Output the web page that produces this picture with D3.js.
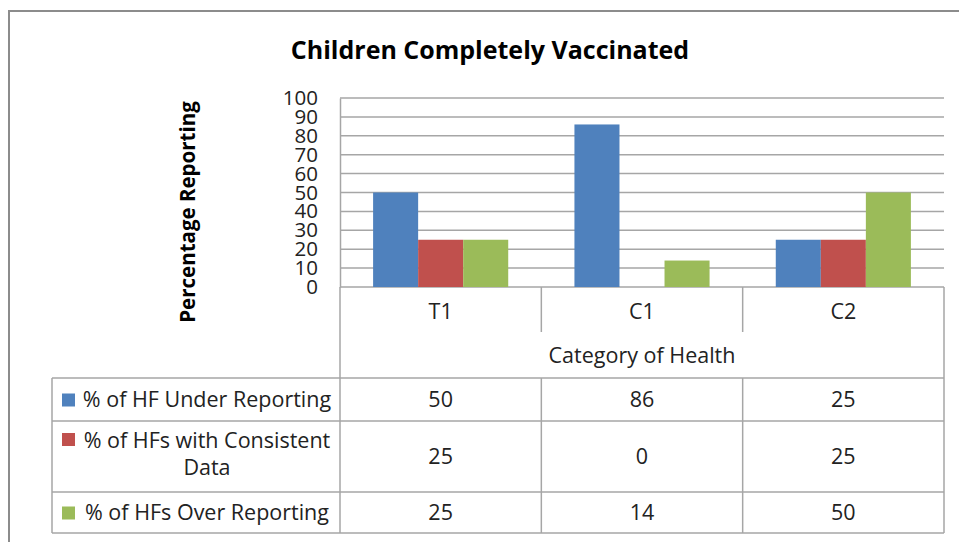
<!DOCTYPE html>
<html>
<head>
<meta charset="utf-8">
<script src="https://cdnjs.cloudflare.com/ajax/libs/d3/7.8.5/d3.min.js"></script>
<style>
  body { margin: 0; background: #fff; }
  svg { display: block; }
  text { font-family: "Open Sans", sans-serif; fill: #222; }
</style>
</head>
<body>
<script>
// Chart data
const categories = ['T1', 'C1', 'C2'];
const seriesNames = ['% of HF Under Reporting', '% of HFs with Consistent Data', '% of HFs Over Reporting'];
const legendLines = [['% of HF Under Reporting'], ['% of HFs with Consistent', 'Data'], ['% of HFs Over Reporting']];
const underReporting = [50, 86, 25];
const consistentData = [25, 0, 25];
const overReporting = [25, 14, 50];
const yTicks = [0, 10, 20, 30, 40, 50, 60, 70, 80, 90, 100];
const colors = ['#4F81BD', '#C0504D', '#9BBB59'];

const seriesValues = [underReporting, consistentData, overReporting];

const width = 959, height = 542;
const plot = { left: 340, right: 944, top: 98, bottom: 287 };
const table = { left: 52, catBottom: 332, rows: [378, 421, 492, 533] };
const gridColor = '#a6a6a6';
const bodySize = '21.5px';

const svg = d3.select('body').append('svg')
  .attr('width', width)
  .attr('height', height);

// outer chart border
svg.append('rect')
  .attr('x', 9).attr('y', 11)
  .attr('width', 980).attr('height', 560)
  .attr('fill', 'none')
  .attr('stroke', '#8c8c8c')
  .attr('stroke-width', 2);

// title
svg.append('text')
  .attr('x', 490).attr('y', 59)
  .attr('text-anchor', 'middle')
  .style('font-size', '25px')
  .style('font-weight', 'bold')
  .style('fill', '#000')
  .text('Children Completely Vaccinated');

// scales
const x = d3.scaleBand()
  .domain(categories)
  .range([plot.left, plot.right])
  .padding(0);

const xSub = d3.scaleBand()
  .domain(d3.range(seriesNames.length))
  .range([0, x.bandwidth()])
  .paddingInner(0)
  .paddingOuter(0.735);

const y = d3.scaleLinear()
  .domain([0, 100])
  .range([plot.bottom, plot.top]);

// gridlines
svg.append('g')
  .selectAll('line')
  .data(yTicks)
  .enter()
  .append('line')
  .attr('x1', plot.left).attr('x2', plot.right)
  .attr('y1', d => y(d)).attr('y2', d => y(d))
  .attr('stroke', gridColor)
  .attr('stroke-width', 1.5);

// y axis
const yAxis = d3.axisLeft(y)
  .tickValues(yTicks)
  .tickSize(0)
  .tickPadding(22);

const yG = svg.append('g')
  .attr('transform', `translate(${plot.left},0)`)
  .call(yAxis);
yG.select('.domain').attr('stroke', gridColor).attr('stroke-width', 1.5);
yG.selectAll('text')
  .style('font-size', '20.5px')
  .style('font-family', '"Open Sans", sans-serif')
  .attr('fill', '#222');

// y axis title
svg.append('text')
  .attr('transform', 'translate(195,212) rotate(-90)')
  .attr('text-anchor', 'middle')
  .style('font-size', '20.5px')
  .style('font-weight', 'bold')
  .style('fill', '#000')
  .text('Percentage Reporting');

// bars
const groups = svg.append('g')
  .selectAll('g')
  .data(categories)
  .enter()
  .append('g')
  .attr('transform', d => `translate(${x(d)},0)`);

groups.selectAll('rect')
  .data((d, i) => seriesValues.map((vals, s) => ({ s, v: vals[i] })))
  .enter()
  .append('rect')
  .attr('x', d => xSub(d.s))
  .attr('width', xSub.bandwidth())
  .attr('y', d => y(d.v))
  .attr('height', d => y(0) - y(d.v))
  .attr('fill', d => colors[d.s]);

// data table lines
const lines = svg.append('g')
  .attr('stroke', gridColor)
  .attr('stroke-width', 1.5);

// category boundaries under the axis
const bounds = categories.map(c => x(c)).concat([plot.right]);
bounds.forEach((bx, i) => {
  const outer = i === 0 || i === bounds.length - 1;
  if (outer) {
    lines.append('line')
      .attr('x1', bx).attr('x2', bx)
      .attr('y1', plot.bottom).attr('y2', table.rows[3]);
  } else {
    lines.append('line')
      .attr('x1', bx).attr('x2', bx)
      .attr('y1', plot.bottom).attr('y2', table.catBottom);
    lines.append('line')
      .attr('x1', bx).attr('x2', bx)
      .attr('y1', table.rows[0]).attr('y2', table.rows[3]);
  }
});

// horizontal table rules
table.rows.forEach(ry => {
  lines.append('line')
    .attr('x1', table.left).attr('x2', plot.right)
    .attr('y1', ry).attr('y2', ry);
});
lines.append('line')
  .attr('x1', table.left).attr('x2', table.left)
  .attr('y1', table.rows[0]).attr('y2', table.rows[3]);

// category labels
svg.append('g')
  .selectAll('text')
  .data(categories)
  .enter()
  .append('text')
  .attr('x', d => x(d) + x.bandwidth() / 2)
  .attr('y', 319)
  .attr('text-anchor', 'middle')
  .style('font-size', bodySize)
  .text(d => d);

svg.append('text')
  .attr('x', (plot.left + plot.right) / 2)
  .attr('y', 363)
  .attr('text-anchor', 'middle')
  .style('font-size', bodySize)
  .text('Category of Health');

// legend rows + values
const rowMid = d3.range(seriesNames.length).map(i => (table.rows[i] + table.rows[i + 1]) / 2);

const legend = svg.append('g');
seriesNames.forEach((name, i) => {
  const nLines = legendLines[i].length;
  const keyY = nLines > 1 ? table.rows[i] + 12 : rowMid[i] - 6;
  legend.append('rect')
    .attr('x', 62).attr('y', keyY)
    .attr('width', 13).attr('height', 13)
    .attr('fill', colors[i]);

  legend.append('text')
    .attr('x', 207)
    .attr('y', nLines > 1 ? table.rows[i] + 27 : rowMid[i] + 7.5)
    .attr('text-anchor', 'middle')
    .style('font-size', bodySize)
    .selectAll('tspan')
    .data(legendLines[i])
    .enter()
    .append('tspan')
    .attr('x', 207)
    .attr('dy', (d, j) => j === 0 ? 0 : 27)
    .text(d => d);

  legend.append('g')
    .selectAll('text')
    .data(seriesValues[i])
    .enter()
    .append('text')
    .attr('x', (d, j) => x(categories[j]) + x.bandwidth() / 2)
    .attr('y', rowMid[i] + 7.5)
    .attr('text-anchor', 'middle')
    .style('font-size', bodySize)
    .text(d => d);
});
</script>
</body>
</html>
